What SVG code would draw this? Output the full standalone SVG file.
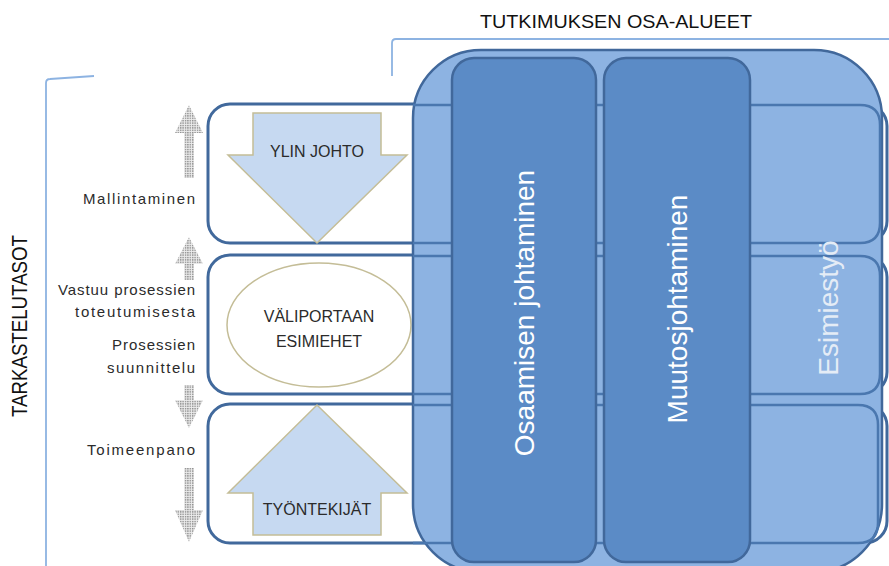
<svg xmlns="http://www.w3.org/2000/svg" width="889" height="566" viewBox="0 0 889 566">
<defs>
<style>
.row{fill:#FFFFFF;stroke:#41699C;stroke-width:3}
.inner{fill:none;stroke:#4A77AF;stroke-width:2.5}
.col{fill:#5B8BC6;stroke:#41689B;stroke-width:2.5}
.shape{fill:#C6D9F1;stroke:#C4BD97;stroke-width:1.5}
.lbl{font-family:"Liberation Sans",Arial,sans-serif;font-size:15px;fill:#2B2B2B;text-anchor:end}
.in{font-family:"Liberation Sans",Arial,sans-serif;font-size:16px;fill:#2B2B2B;text-anchor:middle}
.ct{font-family:"Liberation Sans",Arial,sans-serif;font-size:28px;fill:#FFFFFF;text-anchor:middle}
.brk{fill:none;stroke:#8DB3E2;stroke-width:1.8}
.dot{fill:url(#dots)}
</style>
<pattern id="dots" patternUnits="userSpaceOnUse" width="2.4" height="2.4">
<rect width="2.4" height="2.4" fill="#EDEDED"/>
<rect width="1.4" height="1.4" fill="#8C8C8C"/>
</pattern>
</defs>

<g id="brackets">
<path class="brk" d="M392,76 V43 Q392,39 396,39 H889"/>
<path class="brk" d="M46,566 V83 Q46,79 50,79 L94,76"/>
</g>
<text id="title-top" x="616" y="28" font-family="Liberation Sans,Arial,sans-serif" font-size="19" fill="#111" text-anchor="middle" textLength="272" lengthAdjust="spacingAndGlyphs">TUTKIMUKSEN OSA-ALUEET</text>
<text id="title-left" transform="translate(27,326) rotate(-90)" x="0" y="0" font-family="Liberation Sans,Arial,sans-serif" font-size="22" fill="#111" text-anchor="middle" textLength="182" lengthAdjust="spacingAndGlyphs">TARKASTELUTASOT</text>

<g id="rows">
<rect id="row1" class="row" x="208" y="104" width="679" height="139" rx="22"/>
<rect id="row2" class="row" x="208" y="255" width="679" height="139" rx="22"/>
<rect id="row3" class="row" x="208" y="404" width="679" height="139" rx="22"/>
</g>

<g id="connectors">
<path class="dot" d="M189,105 L203,133 L194,133 L194,178 L184,178 L184,133 L175,133 Z"/>
<path class="dot" d="M189,237 L203,264 L194,264 L194,280 L184,280 L184,264 L175,264 Z"/>
<path class="dot" d="M184,385 L194,385 L194,400 L203,400 L189,428 L175,400 L184,400 Z"/>
<path class="dot" d="M184,468 L194,468 L194,510 L203,510 L189,542 L175,510 L184,510 Z"/>
</g>

<g id="labels">
<text class="lbl" x="195" y="204" textLength="112">Mallintaminen</text>
<text class="lbl" x="195" y="295" textLength="137">Vastuu prosessien</text>
<text class="lbl" x="195" y="317" textLength="120">toteutumisesta</text>
<text class="lbl" x="195" y="350" textLength="83">Prosessien</text>
<text class="lbl" x="195" y="373" textLength="88">suunnittelu</text>
<text class="lbl" x="195" y="455" textLength="108">Toimeenpano</text>
</g>

<g id="ylin-johto">
<polygon class="shape" points="253,113 381,113 381,155 407,155 317,243 228,155 253,155"/>
<text class="in" x="317" y="157">YLIN JOHTO</text>
</g>
<g id="valiportaan">
<ellipse cx="319" cy="325" rx="92" ry="62" fill="#FFFFFF" stroke="#C4BD97" stroke-width="1.5"/>
<text class="in" x="319" y="322">VÄLIPORTAAN</text>
<text class="in" x="319" y="347">ESIMIEHET</text>
</g>
<g id="tyontekijat">
<polygon class="shape" points="317,405 407,493 381,493 381,535 253,535 253,493 228,493"/>
<text class="in" x="317" y="515">TYÖNTEKIJÄT</text>
</g>

<g id="osa-alueet">
<rect x="413" y="50" width="469" height="522" rx="68" fill="#8DB3E2" stroke="#41689B" stroke-width="2.5"/>
<path class="inner" d="M413,105 H860 Q880,105 880,125 V223 Q880,243 860,243 H413"/>
<path class="inner" d="M413,256 H860 Q880,256 880,276 V374 Q880,394 860,394 H413"/>
<path class="inner" d="M413,405 H858 Q878,405 878,425 V523 Q878,543 858,543 H413"/>
</g>
<g id="esimiestyo">
<text class="ct" transform="translate(828,308) rotate(-90)" x="0" y="10" style="fill:#E4ECF6">Esimiestyö</text>
</g>
<g id="osaamisen">
<rect class="col" x="452" y="58" width="144" height="504" rx="22"/>
<text class="ct" transform="translate(524,313) rotate(-90)" x="0" y="10">Osaamisen johtaminen</text>
</g>
<g id="muutos">
<rect class="col" x="604" y="58" width="146" height="504" rx="22"/>
<text class="ct" transform="translate(677,309) rotate(-90)" x="0" y="10">Muutosjohtaminen</text>
</g>
</svg>
